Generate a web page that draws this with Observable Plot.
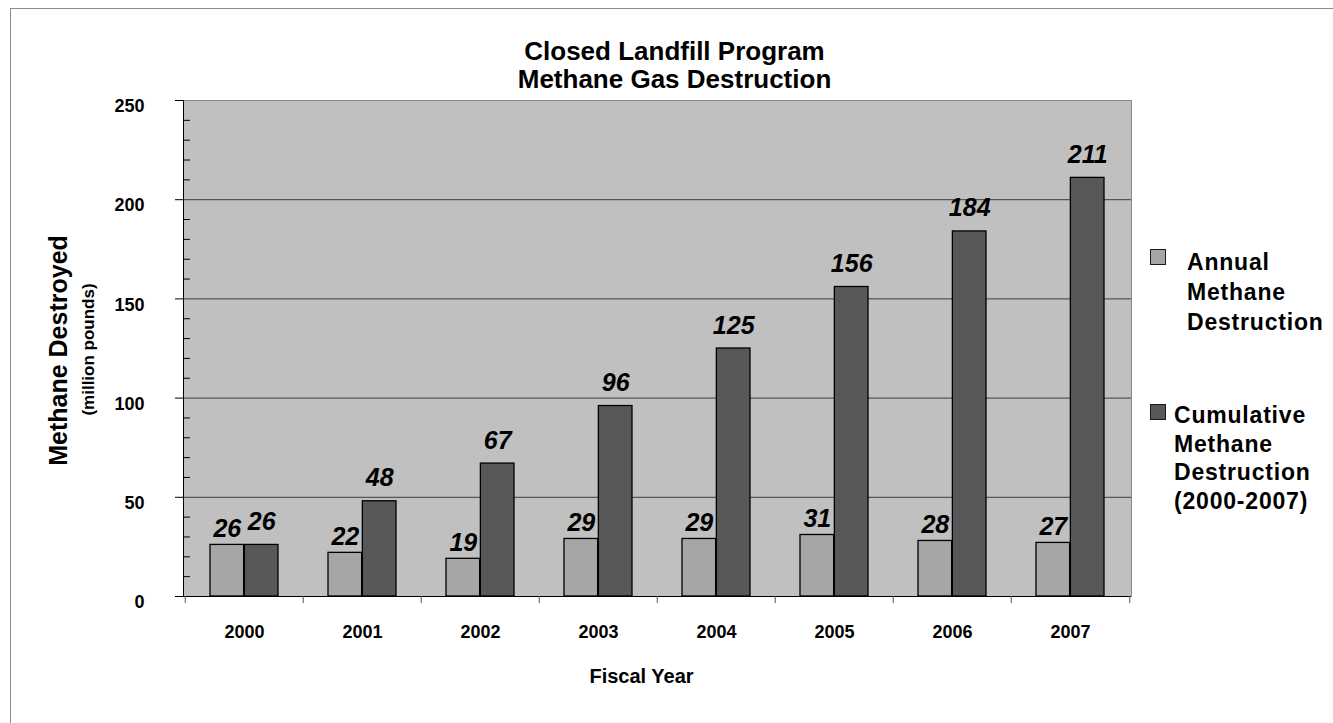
<!DOCTYPE html>
<html>
<head>
<meta charset="utf-8">
<script src="https://cdn.jsdelivr.net/npm/d3@7"></script>
<script src="https://cdn.jsdelivr.net/npm/@observablehq/plot@0.6"></script>
<style>
  html, body { margin: 0; padding: 0; background: #fff; overflow: hidden; }
  #chart { position: relative; width: 1333px; height: 723px; font-family: "Liberation Sans", Arial, sans-serif; }
  #chart svg { position: absolute; left: 0; top: 0; }
  #border { position: absolute; left: 10px; top: 8px; width: 1400px; height: 800px; border: 1px solid #8c8c8c; box-sizing: border-box; pointer-events: none; }
  .legend-text { position: absolute; font-weight: bold; font-size: 23px; letter-spacing: 0.8px; color: #000; white-space: nowrap; }
  .swatch { position: absolute; width: 16px; height: 16px; box-sizing: border-box; border: 1.5px solid #1a1a1a; }
</style>
</head>
<body>
<div id="chart"><div id="border"></div></div>
<script>
// Fiscal years and the two methane series (million pounds)
const years = ["2000", "2001", "2002", "2003", "2004", "2005", "2006", "2007"];
const annual = [26, 22, 19, 29, 29, 31, 28, 27];
const cumulative = [26, 48, 67, 96, 125, 156, 184, 211];

const seriesNames = [
  ["Annual", "Methane", "Destruction"],
  ["Cumulative", "Methane", "Destruction", "(2000-2007)"]
];
const seriesColors = ["#a6a6a6", "#585858"];

const titleLines = ["Closed Landfill Program", "Methane Gas Destruction"];
const yTitle = "Methane Destroyed";
const yUnit = "(million pounds)";
const xTitle = "Fiscal Year";

const yMajorTicks = [0, 50, 100, 150, 200, 250];
const yGrid = [50, 100, 150, 200];
const yMinorTicks = d3.range(10, 250, 10).filter(v => v % 50 !== 0);

const rows = years.map((year, i) => ({year, annual: annual[i], cumulative: cumulative[i]}));

// frame geometry
const W = 1333, H = 723;
const mL = 183, mR = 202, mT = 100, mB = 127;
const step = (W - mL - mR) / years.length;
const padIn = 0.42;
const barW = step * (1 - padIn) / 2;

const font = "Liberation Sans, Arial, sans-serif";
const bold = {fontWeight: "bold", fontFamily: font, fill: "#000"};

const plot = Plot.plot({
  width: W,
  height: H,
  marginLeft: mL,
  marginRight: mR,
  marginTop: mT,
  marginBottom: mB,
  style: {fontFamily: font, background: "transparent", overflow: "visible"},
  x: {type: "band", domain: years, paddingInner: padIn, paddingOuter: padIn / 2, axis: null, label: null},
  y: {domain: [0, 250], axis: null, label: null},
  marks: [
    // title sits above the plotting area
    Plot.text([titleLines.join("\n")], {frameAnchor: "top", dx: 17, dy: -61, lineAnchor: "top", lineHeight: 1.1, fontSize: 26, ...bold}),

    // plotting area and gridlines
    Plot.frame({fill: "#c0c0c0", stroke: "#8a8a8a"}),
    Plot.ruleY(yGrid, {stroke: "#3c3c3c", strokeWidth: 1}),

    // bars
    Plot.barY(rows, {x: "year", y: "annual", fill: seriesColors[0], stroke: "#000", strokeWidth: 1.3, insetRight: barW}),
    Plot.barY(rows, {x: "year", y: "cumulative", fill: seriesColors[1], stroke: "#000", strokeWidth: 1.3, insetLeft: barW}),

    // axis lines
    Plot.frame({anchor: "left", stroke: "#000"}),
    Plot.ruleY([0], {stroke: "#000"}),

    // y axis: major ticks outside, minor ticks inside, labels
    Plot.axisY(yMajorTicks, {tickSize: 8, fill: "none", stroke: "#000"}),
    Plot.axisY(yMinorTicks, {tickSize: -7, fill: "none", stroke: "#000"}),
    Plot.axisY(yMajorTicks, {tickSize: 0, tickPadding: 39, dy: 6, fontSize: 18, fontWeight: "bold", label: null}),

    // x axis: ticks between categories, labels centred
    Plot.axisX(years, {tickSize: 7, fill: "none", stroke: "#555", dx: -step / 2}),
    Plot.axisX([years[years.length - 1]], {tickSize: 7, fill: "none", stroke: "#555", dx: step / 2}),
    Plot.axisX(years, {tickSize: 0, tickPadding: 29, fontSize: 18, fontWeight: "bold", label: null}),

    // value labels
    Plot.text(rows, {x: "year", y: "annual", text: d => String(d.annual), dx: -barW / 2, dy: -8, lineAnchor: "bottom", fontSize: 25, fontStyle: "italic", ...bold}),
    Plot.text(rows, {x: "year", y: "cumulative", text: d => String(d.cumulative), dx: barW / 2, dy: -15, lineAnchor: "bottom", fontSize: 25, fontStyle: "italic", ...bold}),

    // axis titles
    Plot.text([yTitle], {frameAnchor: "left", textAnchor: "middle", dx: -125, dy: 2, rotate: -90, fontSize: 25, ...bold}),
    Plot.text([yUnit], {frameAnchor: "left", textAnchor: "middle", dx: -95, dy: 1, rotate: -90, fontSize: 17, ...bold}),
    Plot.text([xTitle], {frameAnchor: "bottom", dx: -16, dy: 86, fontSize: 20, ...bold})
  ]
});

const chart = document.getElementById("chart");
chart.appendChild(plot);

// legend to the right of the plotting area
const legendItems = [
  {swatch: [1150, 249], text: [1187, 247], lineHeight: 30},
  {swatch: [1150, 404], text: [1174, 401], lineHeight: 28.5}
];
legendItems.forEach((item, i) => {
  const sw = document.createElement("div");
  sw.className = "swatch";
  sw.style.left = item.swatch[0] + "px";
  sw.style.top = item.swatch[1] + "px";
  sw.style.background = seriesColors[i];
  chart.appendChild(sw);
  const tx = document.createElement("div");
  tx.className = "legend-text";
  tx.style.left = item.text[0] + "px";
  tx.style.top = item.text[1] + "px";
  tx.style.lineHeight = item.lineHeight + "px";
  tx.innerHTML = seriesNames[i].join("<br>");
  chart.appendChild(tx);
});
</script>
</body>
</html>
